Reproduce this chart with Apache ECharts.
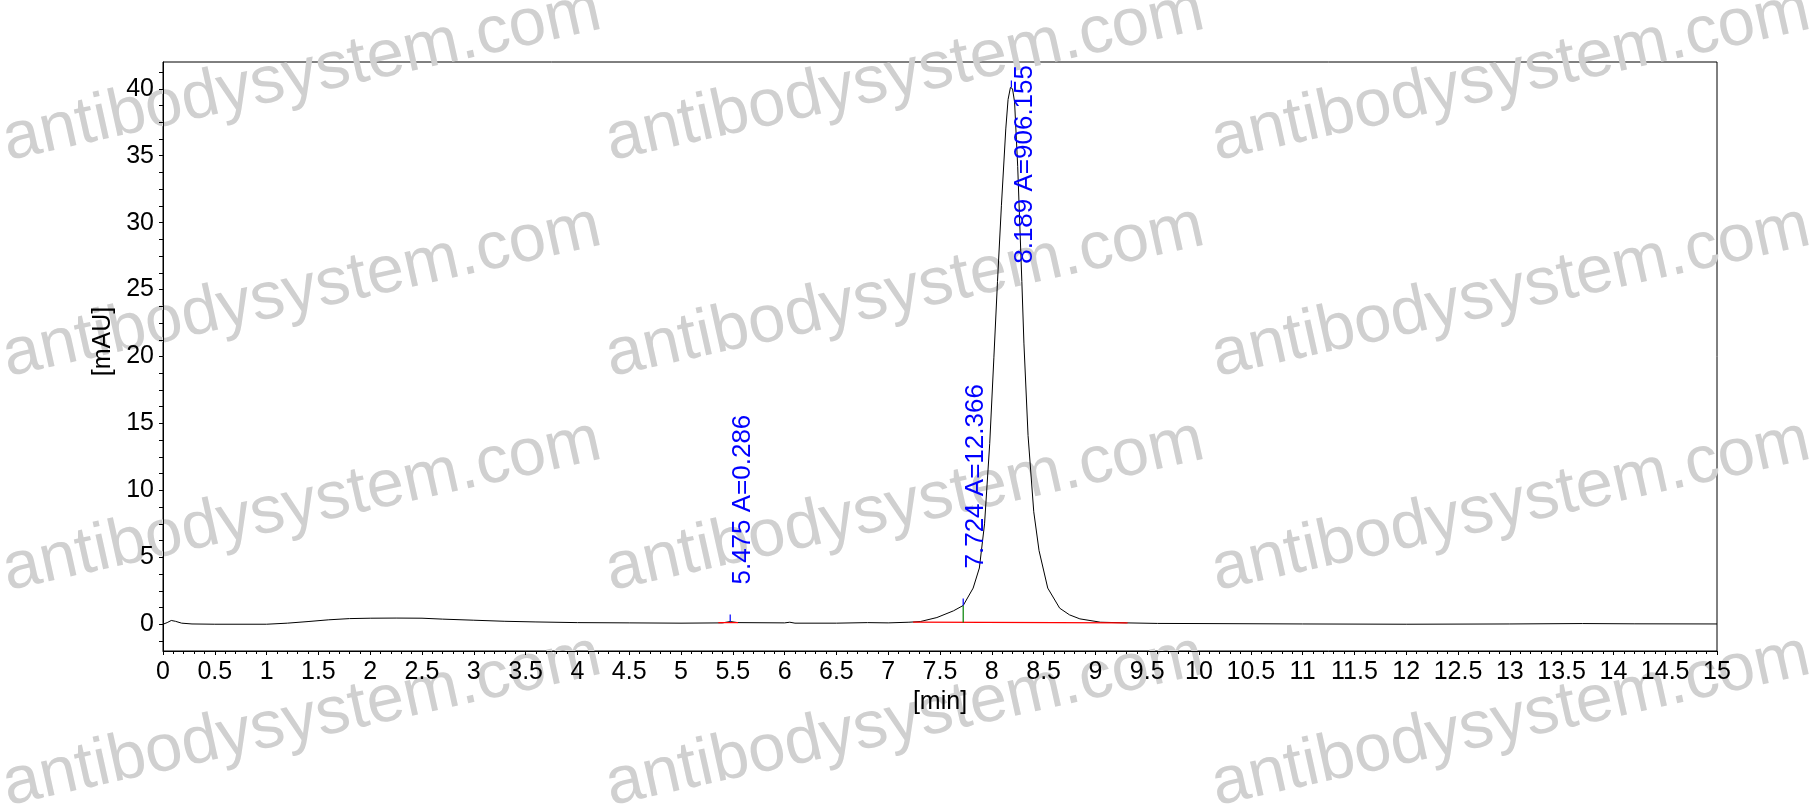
<!DOCTYPE html>
<html>
<head>
<meta charset="utf-8">
<title>chromatogram</title>
<script src="https://cdn.jsdelivr.net/npm/echarts@6/dist/echarts.min.js"></script>
<style>
    html,body{margin:0;padding:0;background:#fff;}
    #main{width:1812px;height:805px;}
</style>
</head>
<body>
<div id="main"></div>
<script>
// trace (min / mAU)
var times = [0, 0.04, 0.08, 0.12, 0.18, 0.28, 0.5, 1.0, 1.2, 1.4, 1.6, 1.8, 2.0, 2.25, 2.5, 2.7, 3.0, 3.3, 3.6, 4.0, 4.5, 5.0, 5.4, 5.475, 5.55, 6.0, 6.05, 6.1, 6.5, 6.8, 7.0, 7.2, 7.31, 7.47, 7.63, 7.724, 7.82, 7.88, 7.93, 7.98, 8.02, 8.055, 8.093, 8.135, 8.157, 8.18, 8.2, 8.22, 8.25, 8.29, 8.31, 8.35, 8.405, 8.456, 8.54, 8.655, 8.75, 8.85, 9.05, 9.3, 9.6, 10, 11, 12, 13, 13.7, 14.2, 15];
var signal = [0, 0.12, 0.28, 0.22, 0.08, 0.02, 0, 0, 0.08, 0.2, 0.33, 0.42, 0.45, 0.46, 0.45, 0.38, 0.3, 0.22, 0.17, 0.12, 0.1, 0.08, 0.1, 0.2, 0.12, 0.1, 0.15, 0.08, 0.08, 0.12, 0.1, 0.15, 0.2, 0.5, 1.0, 1.4, 2.7, 4.2, 7.5, 13.5, 19.9, 25.6, 31.3, 37.0, 39.2, 40.1, 40.0, 39.0, 34.2, 25.6, 21.0, 14.1, 8.4, 5.5, 2.7, 1.2, 0.7, 0.4, 0.15, 0.1, 0.06, 0.05, 0.02, 0.0, 0.02, 0.05, 0.03, 0.02];

// peaks
var peakTimes = [5.475, 7.724, 8.189];
var peakHeights = [0.2, 1.4, 40.1];
var peakLabels = ['5.475 A=0.286', '7.724 A=12.366', '8.189 A=906.155'];

// integration baselines (red)
var baseStart = [5.36, 7.24];
var baseEnd = [5.55, 9.31];
var baseStartY = [0.12, 0.15];
var baseEndY = [0.12, 0.1];

// drop line between peaks (green)
var dropTimes = [7.724];
var dropLow = [0.13];
var dropHigh = [1.4];

// tick labels
var yLabelValues = [0, 5, 10, 15, 20, 25, 30, 35, 40];
var yTickValues = [];
for (var k = -1; k <= 33; k++) {
    yTickValues.push(k * 1.25);
}

var FONT = '"Liberation Sans", Arial, sans-serif';
var labelFont = '26px ' + FONT;

var myChart = echarts.init(document.getElementById('main'));

//文字长度
var ctx = document.createElement('canvas').getContext('2d');
function textWidth(txt){
    ctx.font = labelFont;
    return ctx.measureText(txt).width;
}

var traceData = [];
for (var i = 0; i < times.length; i++) {
    traceData.push([times[i], signal[i]]);
}
var peakData = [];
for (var p = 0; p < peakTimes.length; p++) {
    peakData.push([peakTimes[p], peakHeights[p]]);
}
var baseData = [];
for (var b = 0; b < baseStart.length; b++) {
    baseData.push([baseStart[b], baseStartY[b], baseEnd[b], baseEndY[b]]);
}
var dropData = [];
for (var d = 0; d < dropTimes.length; d++) {
    dropData.push([dropTimes[d], dropLow[d], dropHigh[d]]);
}

// watermark
var wmX = [11, 614, 1220];
var wmY = [175, 391, 605, 820];
var watermarks = [];
for (var r = 0; r < wmY.length; r++) {
    for (var c = 0; c < wmX.length; c++) {
        watermarks.push({
            type: 'text',
            x: wmX[c],
            y: wmY[r],
            rotation: 12.5 * Math.PI / 180,
            z: 0,
            silent: true,
            style: {
                text: 'antibodysystem.com',
                fill: '#d0d0d0',
                font: '67px ' + FONT,
                align: 'left',
                verticalAlign: 'bottom'
            }
        });
    }
}

var option = {
    backgroundColor: '#fff',
    animation: false,
    graphic: watermarks,
    grid: {
        left: 163,
        right: 95,
        top: 62,
        bottom: 154,
        show: true,
        borderColor: '#000',
        borderWidth: 1,
        backgroundColor: 'transparent',
        containLabel: false,
        outerBoundsMode: 'none'
    },
    xAxis: {
        type: 'value',
        min: 0,
        max: 15,
        interval: 0.5,
        name: '[min]',
        nameLocation: 'middle',
        nameGap: 38,
        nameTextStyle: {color: '#000', fontFamily: FONT, fontSize: 25},
        axisLine: {onZero: false, lineStyle: {color: '#000', width: 1}},
        axisTick: {show: true, length: 4, lineStyle: {color: '#000'}},
        minorTick: {show: true, splitNumber: 5, length: 3, lineStyle: {color: '#000'}},
        axisLabel: {color: '#000', fontFamily: FONT, fontSize: 25, margin: 9, showMaxLabel: true, showMinLabel: true},
        splitLine: {show: false}
    },
    yAxis: {
        type: 'value',
        min: -2,
        max: 42,
        name: '[mAU]',
        nameLocation: 'middle',
        nameGap: 47,
        nameRotate: 90,
        nameTextStyle: {color: '#000', fontFamily: FONT, fontSize: 25, padding: [0, 0, 0, 30]},
        axisLine: {onZero: false, lineStyle: {color: '#000', width: 1}},
        axisTick: {show: true, length: 4, customValues: yTickValues, lineStyle: {color: '#000'}},
        axisLabel: {color: '#000', fontFamily: FONT, fontSize: 25, margin: 9, customValues: yLabelValues},
        splitLine: {show: false}
    },
    series: [
        {
            name: 'trace',
            type: 'line',
            data: traceData,
            showSymbol: false,
            z: 3,
            lineStyle: {color: '#000', width: 1}
        },
        {
            //积分基线
            name: 'baseline',
            type: 'custom',
            data: baseData,
            z: 4,
            renderItem: function(params, api){
                var a = api.coord([api.value(0), api.value(1)]);
                var e = api.coord([api.value(2), api.value(3)]);
                return {
                    type: 'line',
                    shape: {x1: a[0], y1: a[1], x2: e[0], y2: e[1]},
                    style: {stroke: '#ff0000', lineWidth: 1.2}
                };
            }
        },
        {
            name: 'drop',
            type: 'custom',
            data: dropData,
            z: 4,
            renderItem: function(params, api){
                var lo = api.coord([api.value(0), api.value(1)]);
                var hi = api.coord([api.value(0), api.value(2)]);
                return {
                    type: 'line',
                    shape: {x1: lo[0], y1: lo[1], x2: hi[0], y2: hi[1]},
                    style: {stroke: '#008000', lineWidth: 1.2}
                };
            }
        },
        {
            //峰标记 + 文字
            name: 'peaks',
            type: 'custom',
            data: peakData,
            z: 5,
            renderItem: function(params, api){
                var pt = api.coord([api.value(0), api.value(1)]);
                var txt = peakLabels[params.dataIndex];
                var w = textWidth(txt);
                var top = params.coordSys.y + 3;
                var anchorY = pt[1] - 37;
                if (anchorY - w < top) {
                    anchorY = top + w;
                }
                return {
                    type: 'group',
                    children: [
                        {
                            type: 'line',
                            shape: {x1: pt[0], y1: pt[1], x2: pt[0], y2: pt[1] - 7},
                            style: {stroke: '#0000ff', lineWidth: 1.2}
                        },
                        {
                            type: 'text',
                            x: pt[0],
                            y: anchorY,
                            rotation: Math.PI / 2,
                            style: {
                                text: txt,
                                fill: '#0000ff',
                                font: labelFont,
                                align: 'left',
                                verticalAlign: 'top'
                            }
                        }
                    ]
                };
            }
        }
    ]
};

myChart.setOption(option);
</script>
</body>
</html>
